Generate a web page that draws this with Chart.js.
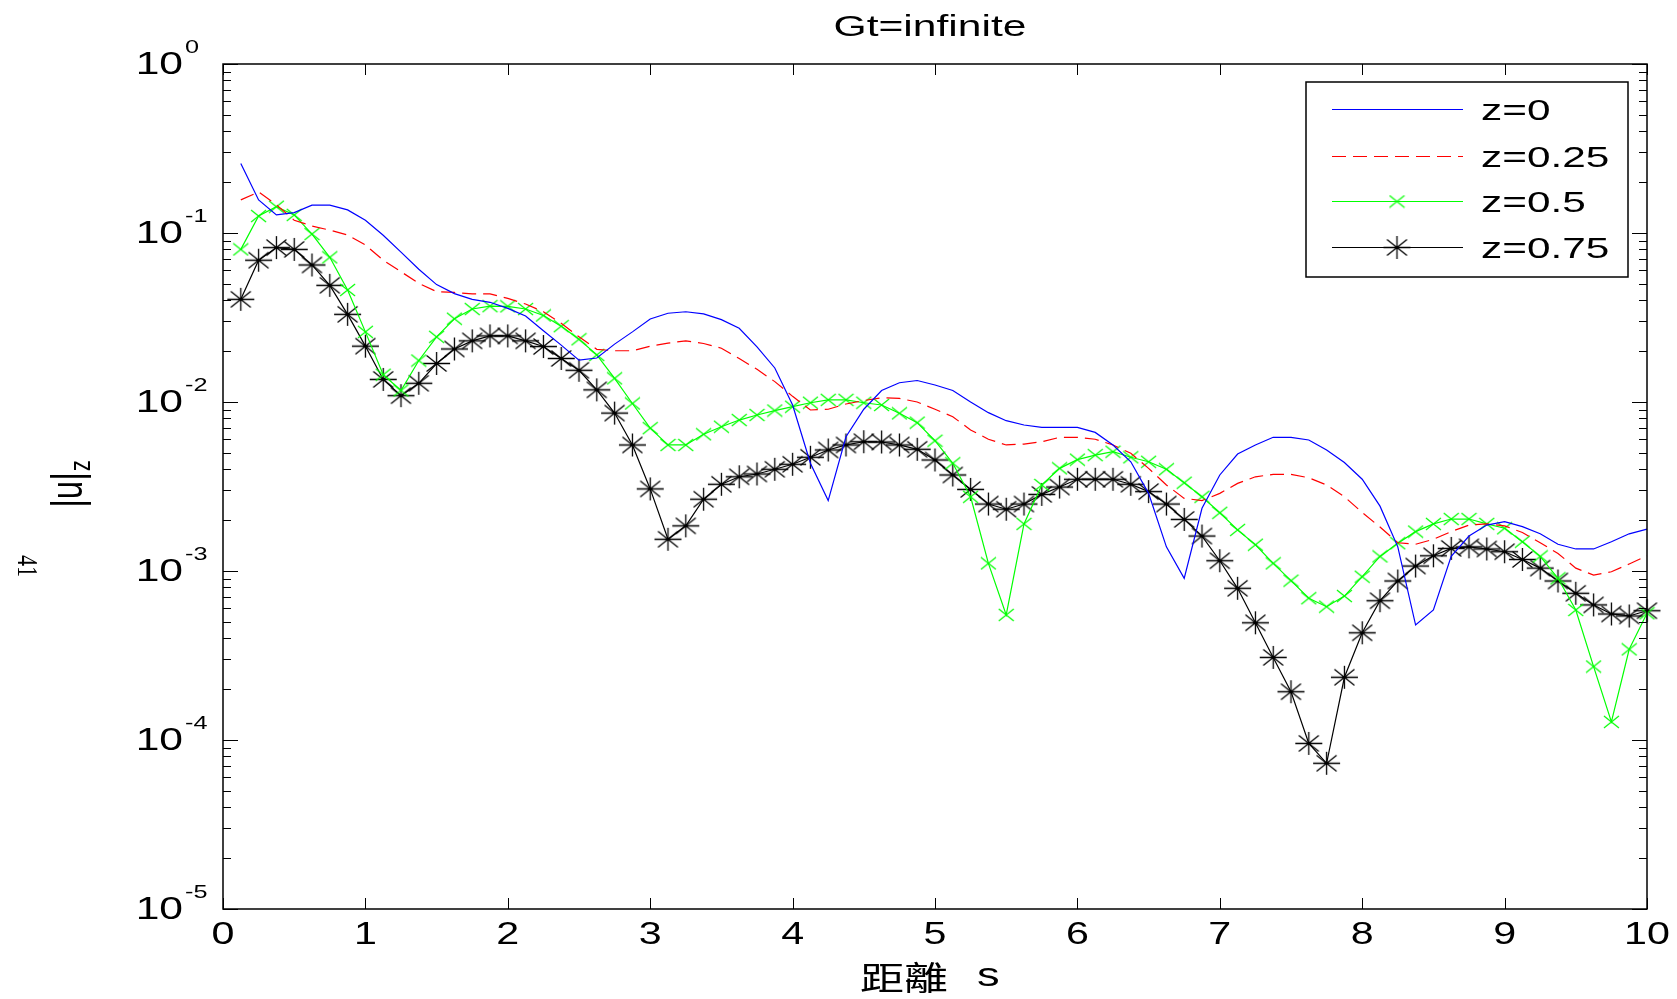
<!DOCTYPE html>
<html lang="zh-Hant">
<head>
<meta charset="UTF-8">
<title>Gt=infinite</title>
<script src="https://cdn.jsdelivr.net/npm/chart.js"></script>
<style>
  body { margin: 0; background: #fff; }
  #wrap { width: 1677px; height: 999px; position: relative; }
</style>
</head>
<body>
<div id="wrap"><canvas id="grafico"></canvas></div>
<script>
// distance s (x positions of the samples)
const distancia = [
  0.125, 0.25, 0.375, 0.5, 0.625, 0.75, 0.875, 1,
  1.125, 1.25, 1.375, 1.5, 1.625, 1.75, 1.875, 2,
  2.125, 2.25, 2.375, 2.5, 2.625, 2.75, 2.875, 3,
  3.125, 3.25, 3.375, 3.5, 3.625, 3.75, 3.875, 4,
  4.125, 4.25, 4.375, 4.5, 4.625, 4.75, 4.875, 5,
  5.125, 5.25, 5.375, 5.5, 5.625, 5.75, 5.875, 6,
  6.125, 6.25, 6.375, 6.5, 6.625, 6.75, 6.875, 7,
  7.125, 7.25, 7.375, 7.5, 7.625, 7.75, 7.875, 8,
  8.125, 8.25, 8.375, 8.5, 8.625, 8.75, 8.875, 9,
  9.125, 9.25, 9.375, 9.5, 9.625, 9.75, 9.875, 10
];

// |u_z| for z = 0
const uz0 = [
  0.258, 0.157, 0.128, 0.132, 0.146, 0.146, 0.137, 0.119,
  0.097, 0.077, 0.061, 0.0495, 0.0438, 0.0405, 0.0389, 0.0358,
  0.0323, 0.0264, 0.0217, 0.0177, 0.0182, 0.022, 0.026, 0.031,
  0.0335, 0.0342, 0.0332, 0.0307, 0.0273, 0.0212, 0.0159, 0.0096,
  0.00434, 0.00261, 0.00623, 0.00906, 0.0117, 0.013, 0.0134, 0.0126,
  0.0117, 0.01, 0.00865, 0.00775, 0.00731, 0.00708, 0.00708, 0.00708,
  0.00661, 0.00557, 0.00443, 0.00288, 0.00139, 0.000905, 0.00235, 0.0037,
  0.00492, 0.00557, 0.00618, 0.00618, 0.00596, 0.0052, 0.00438, 0.00349,
  0.00242, 0.00139, 0.000479, 0.000588, 0.00122, 0.00161, 0.00187, 0.00196,
  0.00183, 0.00166, 0.00144, 0.00135, 0.00135, 0.00149, 0.00166, 0.00177
];

// z = 0.25
const uz025 = [
  0.157, 0.175, 0.147, 0.119, 0.11, 0.104, 0.0973, 0.085,
  0.069, 0.059, 0.0504, 0.045, 0.0445, 0.0436, 0.0436, 0.041,
  0.038, 0.0342, 0.0292, 0.0243, 0.0205, 0.0201, 0.0201, 0.0214,
  0.0223, 0.023, 0.0222, 0.0208, 0.0181, 0.0156, 0.0132, 0.0108,
  0.00897, 0.00906, 0.00973, 0.0102, 0.0106, 0.0105, 0.01, 0.00906,
  0.00818, 0.00683, 0.00602, 0.00557, 0.00564, 0.00582, 0.00618, 0.00618,
  0.00602, 0.00557, 0.00497, 0.00405, 0.00323, 0.00269, 0.00261, 0.00288,
  0.0033, 0.00361, 0.00373, 0.00373, 0.00356, 0.00323, 0.00275, 0.00222,
  0.00182, 0.00147, 0.00144, 0.00154, 0.00171, 0.00187, 0.0019, 0.00185,
  0.00169, 0.00147, 0.00127, 0.00104, 0.000946, 0.00099, 0.0011, 0.00123
];

// z = 0.5
const uz05 = [
  0.08, 0.126, 0.143, 0.128, 0.0986, 0.0718, 0.046, 0.026,
  0.0145, 0.0117, 0.0176, 0.0243, 0.0311, 0.0355, 0.0369, 0.0368,
  0.0355, 0.0325, 0.0281, 0.0235, 0.019, 0.0138, 0.0098, 0.007,
  0.00557, 0.00557, 0.00644, 0.00714, 0.00782, 0.00838, 0.0089, 0.00938,
  0.0099, 0.0103, 0.0103, 0.0099, 0.0096, 0.00857, 0.00755, 0.0059,
  0.00434, 0.00275, 0.00111, 0.00055, 0.0019, 0.00323, 0.00405, 0.00456,
  0.00485, 0.00508, 0.00471, 0.00443, 0.004, 0.00333, 0.00275, 0.00221,
  0.00175, 0.00143, 0.00111, 0.000877, 0.00069, 0.000615, 0.000711, 0.000925,
  0.00122, 0.00146, 0.00171, 0.0019, 0.00203, 0.00203, 0.0019, 0.00179,
  0.00149, 0.00122, 0.000905, 0.000588, 0.000272, 0.000128, 0.000344, 0.000562
];

// z = 0.75
const uz075 = [
  0.0405, 0.069, 0.082, 0.08, 0.0647, 0.049, 0.033, 0.0214,
  0.0136, 0.0109, 0.0129, 0.0169, 0.0206, 0.023, 0.0246, 0.0246,
  0.023, 0.0213, 0.0181, 0.0154, 0.0118, 0.0086, 0.00557, 0.00306,
  0.00154, 0.00185, 0.00266, 0.00326, 0.00361, 0.00375, 0.004, 0.00428,
  0.00471, 0.0052, 0.00557, 0.00582, 0.0058, 0.00557, 0.00525, 0.00454,
  0.0037, 0.00304, 0.00249, 0.00232, 0.00249, 0.00284, 0.00314, 0.00349,
  0.00349, 0.00349, 0.00326, 0.00295, 0.00249, 0.00202, 0.00161, 0.00115,
  0.00079, 0.000494, 0.000308, 0.000193, 0.0000955, 0.0000728, 0.000235, 0.000431,
  0.000667, 0.000873, 0.00107, 0.00123, 0.00136, 0.00139, 0.00135, 0.0013,
  0.00117, 0.00104, 0.000873, 0.000738, 0.00063, 0.000557, 0.000542, 0.000582
];

const nomes = ['z=0', 'z=0.25', 'z=0.5', 'z=0.75'];
const xTicks = [0, 1, 2, 3, 4, 5, 6, 7, 8, 9, 10];
const yExpoentes = [0, -1, -2, -3, -4, -5];

// the original figure is stretched horizontally
const SX = 1.33;

// marker images (stretched like the picture)
function marcadorX() {
  const c = document.createElement('canvas');
  c.width = 17; c.height = 14;
  const g = c.getContext('2d');
  g.strokeStyle = '#00ff00'; g.lineWidth = 1.2;
  g.beginPath();
  g.moveTo(1, 1); g.lineTo(16, 13);
  g.moveTo(16, 1); g.lineTo(1, 13);
  g.stroke();
  return c;
}
function marcadorEstrela() {
  const c = document.createElement('canvas');
  c.width = 29; c.height = 25;
  const g = c.getContext('2d');
  g.strokeStyle = '#000'; g.lineWidth = 1.3;
  const cx = 14.5, cy = 12.5;
  g.beginPath();
  g.moveTo(1, cy); g.lineTo(28, cy);
  g.moveTo(cx, 1); g.lineTo(cx, 24);
  g.moveTo(cx - 10, cy - 8); g.lineTo(cx + 10, cy + 8);
  g.moveTo(cx + 10, cy - 8); g.lineTo(cx - 10, cy + 8);
  g.stroke();
  return c;
}
const imgX = marcadorX();
const imgEstrela = marcadorEstrela();

function pontos(valores) {
  return distancia.map((x, i) => ({ x: x, y: valores[i] }));
}

function texto(ctx, s, x, y, size, family, align, base, sx) {
  ctx.save();
  ctx.translate(x, y);
  ctx.scale(sx || SX, 1);
  ctx.font = size + 'px ' + family;
  ctx.textAlign = align;
  ctx.textBaseline = base;
  ctx.fillStyle = '#000';
  ctx.fillText(s, 0, 0);
  ctx.restore();
}

// frame, inward ticks, labels, legend
const moldura = {
  id: 'moldura',
  afterDraw(chart) {
    const ctx = chart.ctx;
    const a = chart.chartArea;
    const sx = chart.scales.x, sy = chart.scales.y;
    const fonte = '"Liberation Sans", Arial, sans-serif';
    ctx.save();
    ctx.strokeStyle = '#000';
    ctx.lineWidth = 1.5;
    ctx.strokeRect(a.left, a.top, a.right - a.left, a.bottom - a.top);

    ctx.lineWidth = 1;
    ctx.beginPath();
    xTicks.forEach(v => {
      const px = Math.round(sx.getPixelForValue(v)) + 0.5;
      ctx.moveTo(px, a.bottom); ctx.lineTo(px, a.bottom - 11);
      ctx.moveTo(px, a.top); ctx.lineTo(px, a.top + 11);
    });
    yExpoentes.forEach(e => {
      for (let m = 1; m <= 9; m++) {
        const v = m * Math.pow(10, e);
        if (e === 0 && m > 1) continue;
        const py = Math.round(sy.getPixelForValue(v)) + 0.5;
        const len = m === 1 ? 15 : 8;
        ctx.moveTo(a.left, py); ctx.lineTo(a.left + len, py);
        ctx.moveTo(a.right, py); ctx.lineTo(a.right - len, py);
      }
    });
    ctx.stroke();

    // tick labels
    xTicks.forEach(v => {
      texto(ctx, String(v), sx.getPixelForValue(v), 935, 31, fonte, 'center', 'middle');
    });
    yExpoentes.forEach(e => {
      const py = sy.getPixelForValue(Math.pow(10, e));
      texto(ctx, '10', 183, py + 1, 32, fonte, 'right', 'middle');
      texto(ctx, String(e), 185, py - 11, 19, fonte, 'left', 'alphabetic');
    });

    // title and axis labels
    texto(ctx, 'Gt=infinite', 930, 28, 30, fonte, 'center', 'middle', 1.42);
    ctx.save();
    ctx.translate(860, 977);
    ctx.scale(SX, 1);
    ctx.font = '33px "Noto Sans CJK TC", sans-serif';
    ctx.textBaseline = 'middle';
    ctx.textAlign = 'left';
    ctx.fillStyle = '#000';
    ctx.fillText('距離', 0, 0);
    const w = ctx.measureText('距離').width;
    ctx.font = '34px ' + fonte;
    ctx.fillText('s', w + 22, 0);
    ctx.restore();

    // y label |u|z rotated
    ctx.save();
    ctx.translate(70, 490);
    ctx.scale(SX, 1);
    ctx.rotate(-Math.PI / 2);
    ctx.fillStyle = '#000';
    ctx.font = '33px ' + fonte;
    ctx.textAlign = 'center';
    ctx.textBaseline = 'middle';
    ctx.fillText('|u|', 0, 0);
    const wu = ctx.measureText('|u|').width;
    ctx.font = '22px ' + fonte;
    ctx.textAlign = 'left';
    ctx.fillText('z', wu / 2 + 1, 9);
    ctx.restore();

    // stray page number
    ctx.save();
    ctx.translate(26, 566);
    ctx.scale(SX, 1);
    ctx.rotate(Math.PI / 2);
    ctx.fillStyle = '#000';
    ctx.font = '22px "Liberation Serif", serif';
    ctx.textAlign = 'center';
    ctx.textBaseline = 'middle';
    ctx.fillText('41', 0, 0);
    ctx.restore();

    // legend
    const bx = 1306, by = 82, bw = 322, bh = 195;
    ctx.fillStyle = '#fff';
    ctx.fillRect(bx, by, bw, bh);
    ctx.lineWidth = 1.5;
    ctx.strokeStyle = '#000';
    ctx.strokeRect(bx, by, bw, bh);
    const linhas = [109, 156, 201, 247];
    chart.data.datasets.forEach((ds, i) => {
      const yy = linhas[i] + 0.5;
      ctx.save();
      ctx.strokeStyle = ds.borderColor;
      ctx.lineWidth = ds.borderWidth;
      ctx.setLineDash(ds.borderDash || []);
      ctx.beginPath();
      ctx.moveTo(1332, yy); ctx.lineTo(1463, yy);
      ctx.stroke();
      ctx.restore();
      if (ds.pointRadius > 0) {
        const img = ds.pointStyle;
        ctx.drawImage(img, 1397 - img.width / 2, yy - img.height / 2);
      }
      texto(ctx, nomes[i], 1481, linhas[i] + 3, 29, fonte, 'left', 'middle', 1.46);
    });
    ctx.restore();
  }
};

const ctx = document.getElementById('grafico').getContext('2d');
const grafico = new Chart(ctx, {
  type: 'line',
  data: {
    datasets: [{
      label: nomes[0],
      data: pontos(uz0),
      borderColor: '#0000ff',
      borderWidth: 1.2,
      pointRadius: 0,
      clip: false
    }, {
      label: nomes[1],
      data: pontos(uz025),
      borderColor: '#ff0000',
      borderWidth: 1.2,
      borderDash: [14, 7],
      pointRadius: 0,
      clip: false
    }, {
      label: nomes[2],
      data: pontos(uz05),
      borderColor: '#00ff00',
      borderWidth: 1.2,
      pointStyle: imgX,
      pointRadius: 6,
      clip: false
    }, {
      label: nomes[3],
      data: pontos(uz075),
      borderColor: '#000000',
      borderWidth: 1.2,
      pointStyle: imgEstrela,
      pointRadius: 10,
      clip: false
    }]
  },
  options: {
    responsive: true,
    maintainAspectRatio: false,
    animation: false,
    layout: { padding: { left: 223, top: 64, right: 30, bottom: 90 } },
    elements: { line: { tension: 0 } },
    scales: {
      x: { type: 'linear', min: 0, max: 10, display: false },
      y: { type: 'logarithmic', min: 1e-5, max: 1, display: false }
    },
    plugins: {
      legend: { display: false },
      title: { display: false },
      tooltip: { enabled: false }
    }
  },
  plugins: [moldura]
});
</script>
</body>
</html>
